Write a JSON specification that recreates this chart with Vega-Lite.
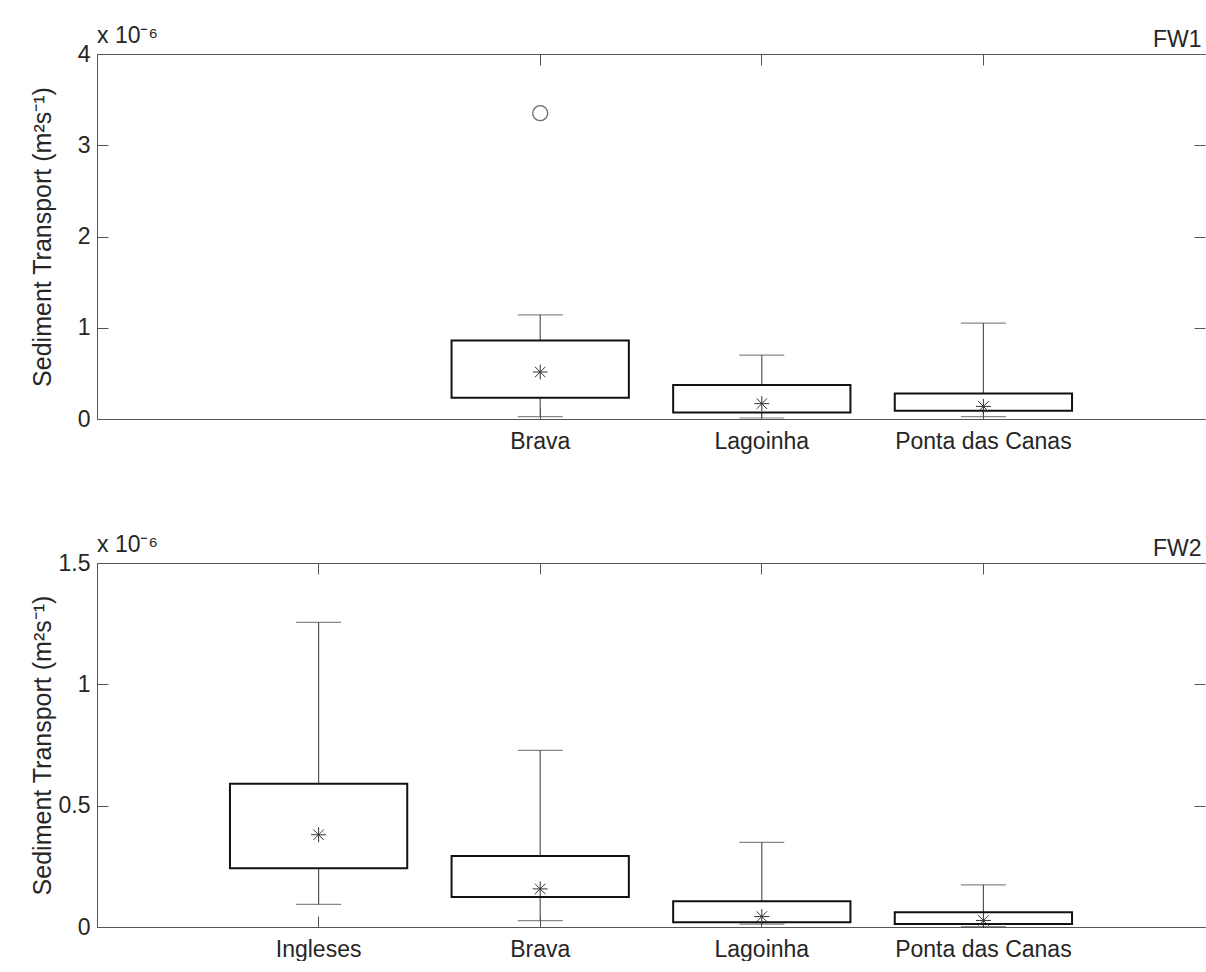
{
  "$schema": "https://vega.github.io/schema/vega-lite/v6.json",
  "background": "white",
  "padding": {"left": 30, "top": 24, "right": 0, "bottom": 0},
  "config": {
    "font": "Liberation Sans",
    "view": {"stroke": null},
    "axis": {
      "grid": false,
      "domainColor": "#555555",
      "tickColor": "#555555",
      "domainWidth": 1,
      "tickWidth": 1,
      "tickSize": -11,
      "labelColor": "#262626",
      "titleColor": "#262626",
      "labelFont": "Liberation Sans",
      "titleFont": "Liberation Sans",
      "labelFontSize": 23,
      "titleFontSize": 25,
      "titleFontWeight": "normal"
    },
    "axisX": {"labelPadding": 22},
    "axisY": {"labelPadding": 18}
  },
  "datasets": {
    "fw1": [
      {"beach": "Brava", "lo": 0.025, "q1": 0.233, "mean": 0.515, "q3": 0.861, "hi": 1.142},
      {"beach": "Lagoinha", "lo": 0.011, "q1": 0.072, "mean": 0.168, "q3": 0.372, "hi": 0.701},
      {"beach": "Ponta das Canas", "lo": 0.025, "q1": 0.091, "mean": 0.138, "q3": 0.28, "hi": 1.051}
    ],
    "fw1_out": [
      {"beach": "Brava", "value": 3.351}
    ],
    "fw2": [
      {"beach": "Ingleses", "lo": 0.093, "q1": 0.242, "mean": 0.38, "q3": 0.59, "hi": 1.255},
      {"beach": "Brava", "lo": 0.026, "q1": 0.124, "mean": 0.157, "q3": 0.293, "hi": 0.728},
      {"beach": "Lagoinha", "lo": 0.012, "q1": 0.02, "mean": 0.043, "q3": 0.106, "hi": 0.349},
      {"beach": "Ponta das Canas", "lo": 0.002, "q1": 0.012, "mean": 0.027, "q3": 0.061, "hi": 0.174}
    ]
  },
  "bounds": "flush",
  "spacing": 144,
  "vconcat": [
    {
      "width": 1108,
      "height": 365,
      "title": {"text": "x 10⁻⁶", "anchor": "start", "frame": "group", "fontSize": 23, "fontWeight": "normal", "color": "#262626", "font": "Liberation Sans", "dy": 23},
      "layer": [
        {
          "data": {"name": "fw1"},
          "mark": {"type": "rule", "color": "#555555", "strokeWidth": 1.2},
          "encoding": {
            "x": {"field": "beach", "type": "nominal",
                  "scale": {"domain": ["Ingleses", "Brava", "Lagoinha", "Ponta das Canas"], "paddingInner": 0.2, "paddingOuter": 0.6},
                  "axis": {"orient": "bottom", "title": null, "labelAngle": 0, "values": ["Brava", "Lagoinha", "Ponta das Canas"]}},
            "y": {"field": "lo", "type": "quantitative",
                  "scale": {"domain": [0, 4], "nice": false},
                  "axis": {"orient": "left", "values": [0, 1, 2, 3, 4], "format": "~g", "title": "Sediment Transport (m²s⁻¹)", "titleX": -42}},
            "y2": {"field": "hi"}
          }
        },
        {
          "data": {"name": "fw1"},
          "mark": {"type": "tick", "color": "#555555", "thickness": 1.2, "size": 45},
          "encoding": {
            "x": {"field": "beach", "type": "nominal", "axis": null},
            "y": {"field": "lo", "type": "quantitative", "axis": null}
          }
        },
        {
          "data": {"name": "fw1"},
          "mark": {"type": "tick", "color": "#555555", "thickness": 1.2, "size": 45},
          "encoding": {
            "x": {"field": "beach", "type": "nominal", "axis": null},
            "y": {"field": "hi", "type": "quantitative", "axis": null}
          }
        },
        {
          "data": {"name": "fw1"},
          "mark": {"type": "bar", "fill": "white", "stroke": "#111111", "strokeWidth": 2},
          "encoding": {
            "x": {"field": "beach", "type": "nominal",
                  "axis": {"orient": "top", "labels": false, "title": "FW1", "titleFontSize": 23, "titlePadding": 2, "titleAlign": "right", "titleX": 1104, "values": ["Brava", "Lagoinha", "Ponta das Canas"]}},
            "y": {"field": "q1", "type": "quantitative",
                  "axis": {"orient": "right", "labels": false, "domain": false, "title": null, "values": [0, 1, 2, 3, 4]}},
            "y2": {"field": "q3"}
          }
        },
        {
          "data": {"name": "fw1"},
          "mark": {"type": "point", "shape": "M0,-1L0,1M-1,0L1,0M-0.7,-0.7L0.7,0.7M-0.7,0.7L0.7,-0.7", "size": 225, "stroke": "#333333", "strokeWidth": 1, "filled": false, "opacity": 1},
          "encoding": {
            "x": {"field": "beach", "type": "nominal", "axis": null},
            "y": {"field": "mean", "type": "quantitative", "axis": null}
          }
        },
        {
          "data": {"name": "fw1_out"},
          "mark": {"type": "point", "shape": "circle", "size": 225, "stroke": "#666666", "strokeWidth": 1.3, "filled": false, "opacity": 1},
          "encoding": {
            "x": {"field": "beach", "type": "nominal", "axis": null},
            "y": {"field": "value", "type": "quantitative", "axis": null}
          }
        }
      ],
      "resolve": {"axis": {"x": "independent", "y": "independent"}}
    },
    {
      "width": 1108,
      "height": 364,
      "title": {"text": "x 10⁻⁶", "anchor": "start", "frame": "group", "fontSize": 23, "fontWeight": "normal", "color": "#262626", "font": "Liberation Sans", "dy": 23},
      "layer": [
        {
          "data": {"name": "fw2"},
          "mark": {"type": "rule", "color": "#555555", "strokeWidth": 1.2},
          "encoding": {
            "x": {"field": "beach", "type": "nominal",
                  "scale": {"domain": ["Ingleses", "Brava", "Lagoinha", "Ponta das Canas"], "paddingInner": 0.2, "paddingOuter": 0.6},
                  "axis": {"orient": "bottom", "title": null, "labelAngle": 0}},
            "y": {"field": "lo", "type": "quantitative",
                  "scale": {"domain": [0, 1.5], "nice": false},
                  "axis": {"orient": "left", "values": [0, 0.5, 1, 1.5], "format": "~g", "title": "Sediment Transport (m²s⁻¹)", "titleX": -42}},
            "y2": {"field": "hi"}
          }
        },
        {
          "data": {"name": "fw2"},
          "mark": {"type": "tick", "color": "#555555", "thickness": 1.2, "size": 45},
          "encoding": {
            "x": {"field": "beach", "type": "nominal", "axis": null},
            "y": {"field": "lo", "type": "quantitative", "axis": null}
          }
        },
        {
          "data": {"name": "fw2"},
          "mark": {"type": "tick", "color": "#555555", "thickness": 1.2, "size": 45},
          "encoding": {
            "x": {"field": "beach", "type": "nominal", "axis": null},
            "y": {"field": "hi", "type": "quantitative", "axis": null}
          }
        },
        {
          "data": {"name": "fw2"},
          "mark": {"type": "bar", "fill": "white", "stroke": "#111111", "strokeWidth": 2},
          "encoding": {
            "x": {"field": "beach", "type": "nominal",
                  "axis": {"orient": "top", "labels": false, "title": "FW2", "titleFontSize": 23, "titlePadding": 2, "titleAlign": "right", "titleX": 1104}},
            "y": {"field": "q1", "type": "quantitative",
                  "axis": {"orient": "right", "labels": false, "domain": false, "title": null, "values": [0, 0.5, 1, 1.5]}},
            "y2": {"field": "q3"}
          }
        },
        {
          "data": {"name": "fw2"},
          "mark": {"type": "point", "shape": "M0,-1L0,1M-1,0L1,0M-0.7,-0.7L0.7,0.7M-0.7,0.7L0.7,-0.7", "size": 225, "stroke": "#333333", "strokeWidth": 1, "filled": false, "opacity": 1},
          "encoding": {
            "x": {"field": "beach", "type": "nominal", "axis": null},
            "y": {"field": "mean", "type": "quantitative", "axis": null}
          }
        }
      ],
      "resolve": {"axis": {"x": "independent", "y": "independent"}}
    }
  ]
}
